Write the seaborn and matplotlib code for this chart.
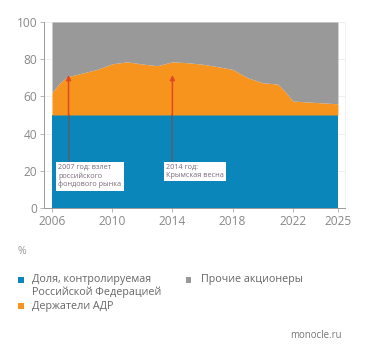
import numpy as np
import matplotlib
matplotlib.use('Agg')
import matplotlib.pyplot as plt
import seaborn as sns
from matplotlib.patches import Rectangle

# ownership structure, % of shares
years = [2006, 2006.5, 2007, 2008, 2009, 2010, 2011, 2012, 2013, 2014, 2015,
         2016, 2017, 2018, 2019, 2020, 2021, 2021.5, 2022, 2023, 2024, 2025]
fed_share = [50, 50, 50, 50, 50, 50, 50, 50, 50, 50, 50,
             50, 50, 50, 50, 50, 50, 50, 50, 50, 50, 50]
adr_top = [62, 67, 70.5, 72.5, 74.5, 77.5, 78.6, 77.4, 76.5, 78.6, 78.1,
           77.3, 76.0, 74.5, 70.0, 67.3, 66.6, 62.5, 57.5, 57.0, 56.5, 56.0]

labels = ['Доля, контролируемая\nРоссийской Федерацией', 'Держатели АДР', 'Прочие акционеры']
colors = ['#0a86ba', '#f7941e', '#999999']
xticks = [2006, 2010, 2014, 2018, 2022, 2025]
yticks = [0, 20, 40, 60, 80, 100]

notes = ['2007 год: взлет\nроссийского\nфондового рынка', '2014 год:\nКрымская весна']
note_years = [2007.1, 2014.0]

sns.set_style('white')
plt.rcParams['font.family'] = ['Open Sans', 'DejaVu Sans']

fed = np.array(fed_share, dtype=float)
adr = np.array(adr_top) - fed
other = 100 - np.array(adr_top)

fig = plt.figure(figsize=(3.71, 3.57), dpi=100)
ax = fig.add_axes([0.1186, 0.4174, 0.8113, 0.521])

ax.stackplot(years, fed, adr, other, colors=colors, linewidth=0, zorder=2)

ax.set_xlim(2005.47, 2025.47)
ax.set_ylim(0, 100)
ax.set_xticks(xticks)
ax.set_xticks(range(2006, 2026), minor=True)
ax.set_yticks(yticks)
ax.grid(axis='y', color='#eeeeee', linewidth=0.6, zorder=0)
ax.tick_params(axis='both', labelsize=8.6, labelcolor='#888888', color='#aaaaaa',
               length=3, width=0.6, direction='out', pad=2)
ax.tick_params(axis='x', which='minor', length=2, color='#dddddd', width=0.5)
ax.tick_params(left=True, bottom=True)
ax.spines['top'].set_visible(False)
ax.spines['right'].set_color('#eeeeee')
ax.spines['right'].set_linewidth(0.6)
for side in ['left', 'bottom']:
    ax.spines[side].set_color('#999999')
    ax.spines[side].set_linewidth(0.7)

# annotations
box_x = [2006.27, 2013.45]
for txt, yr, bx in zip(notes, note_years, box_x):
    ax.plot([yr, yr], [25, 50], color='#55606e', linewidth=1.1, zorder=3)
    ax.annotate('', xy=(yr, 71.5), xytext=(yr, 49.8),
                arrowprops=dict(arrowstyle='-|>', color='#e04a20', lw=1.1,
                                mutation_scale=7, shrinkA=0, shrinkB=0), zorder=3)
    ax.text(bx + 0.15, 23.8, txt, fontsize=5.2, color='#7a6a7c', va='top', ha='left',
            linespacing=1.25, zorder=4,
            bbox=dict(boxstyle='square,pad=0.3', fc='white', ec='none'))

# unit and legend
W, H = 371, 357
fig.text(18 / W, 1 - 252 / H, '%', fontsize=7.5, color='#999999', va='center')

leg = [(21, 279.5, 32, 0), (21, 306, 32, 1), (188.5, 279.5, 201, 2)]
for mx, my, tx, i in leg:
    fig.add_artist(Rectangle(((mx - 3) / W, 1 - (my + 3) / H), 6 / W, 6 / H,
                             transform=fig.transFigure, color=colors[i], lw=0))
    for k, line in enumerate(labels[i].split('\n')):
        fig.text(tx / W, 1 - (my + 12.7 * k) / H, line, fontsize=7.75,
                 color='#666666', va='center', ha='left')

fig.text(342 / W, 1 - 335 / H, 'monocle.ru', fontsize=6.9, color='#777777',
         va='center', ha='right')

fig.savefig('out.png', dpi=100)
